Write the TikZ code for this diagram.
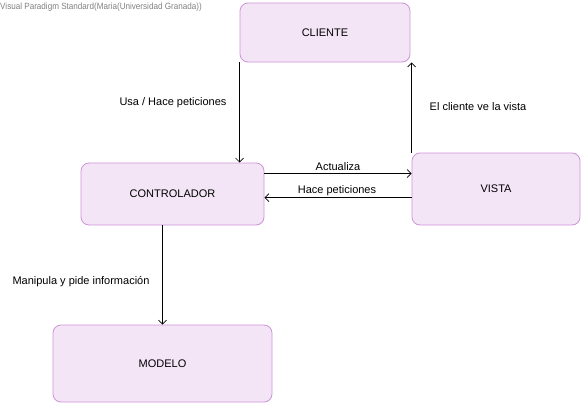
\documentclass[tikz,border=0pt]{standalone}
\usepackage{fontspec}
\setmainfont{Liberation Sans}
\usepackage{tikz}
\usetikzlibrary{arrows.meta}
\usetikzlibrary{calc}

\definecolor{boxfill}{RGB}{243,229,246}
\definecolor{boxline}{RGB}{206,147,216}

\begin{document}
\begin{tikzpicture}[x=1pt,y=-1pt,
	every node/.style={font=\fontsize{11}{13}\selectfont, inner sep=0pt},
	clase/.style={draw=boxline, fill=boxfill, rounded corners=8pt, line width=0.8pt},
	flecha/.style={-{Straight Barb[length=4pt,width=8pt]}, line width=0.7pt}]
	
	\useasboundingbox (0,0) rectangle (585,407);
	
	\node[anchor=north west, text=gray, font=\fontsize{9}{10}\selectfont\addfontfeatures{FakeStretch=0.9}] (marca) at (0,3) {Visual Paradigm Standard(Maria(Universidad Granada))};
	
	\node[clase, minimum width=170pt, minimum height=59pt] (cliente) at (325,32.5) {CLIENTE};
	\node[clase, minimum width=183pt, minimum height=62pt] (ctrl) at (172.5,194) {CONTROLADOR};
	\node[clase, minimum width=168pt, minimum height=72pt] (vista) at (496,189) {VISTA};
	\node[clase, minimum width=219pt, minimum height=77pt] (modelo) at (162.5,363.5) {MODELO};
	
	\draw[flecha] (cliente.south west) -- (cliente.south west |- ctrl.north);
	\draw[flecha] (vista.north west) -- (vista.north west |- cliente.south);
	\draw[flecha] ([yshift=-11pt]ctrl.north east) -- ([yshift=-11pt]ctrl.north east -| vista.west);
	\draw[flecha] ([yshift=-35pt]ctrl.north east -| vista.west) -- ([yshift=-35pt]ctrl.north east);
	\draw[flecha] (modelo.north |- ctrl.south) -- (modelo.north);
	
	\node (usa) at (173,103) {Usa / Hace peticiones};
	\node (ve) at (478,107) {El cliente ve la vista};
	\node (act) at (338,167) {Actualiza};
	\node (pet) at (337,191) {Hace peticiones};
	\node (manip) at (81,282) {Manipula y pide información};
	
\end{tikzpicture}
\end{document}
